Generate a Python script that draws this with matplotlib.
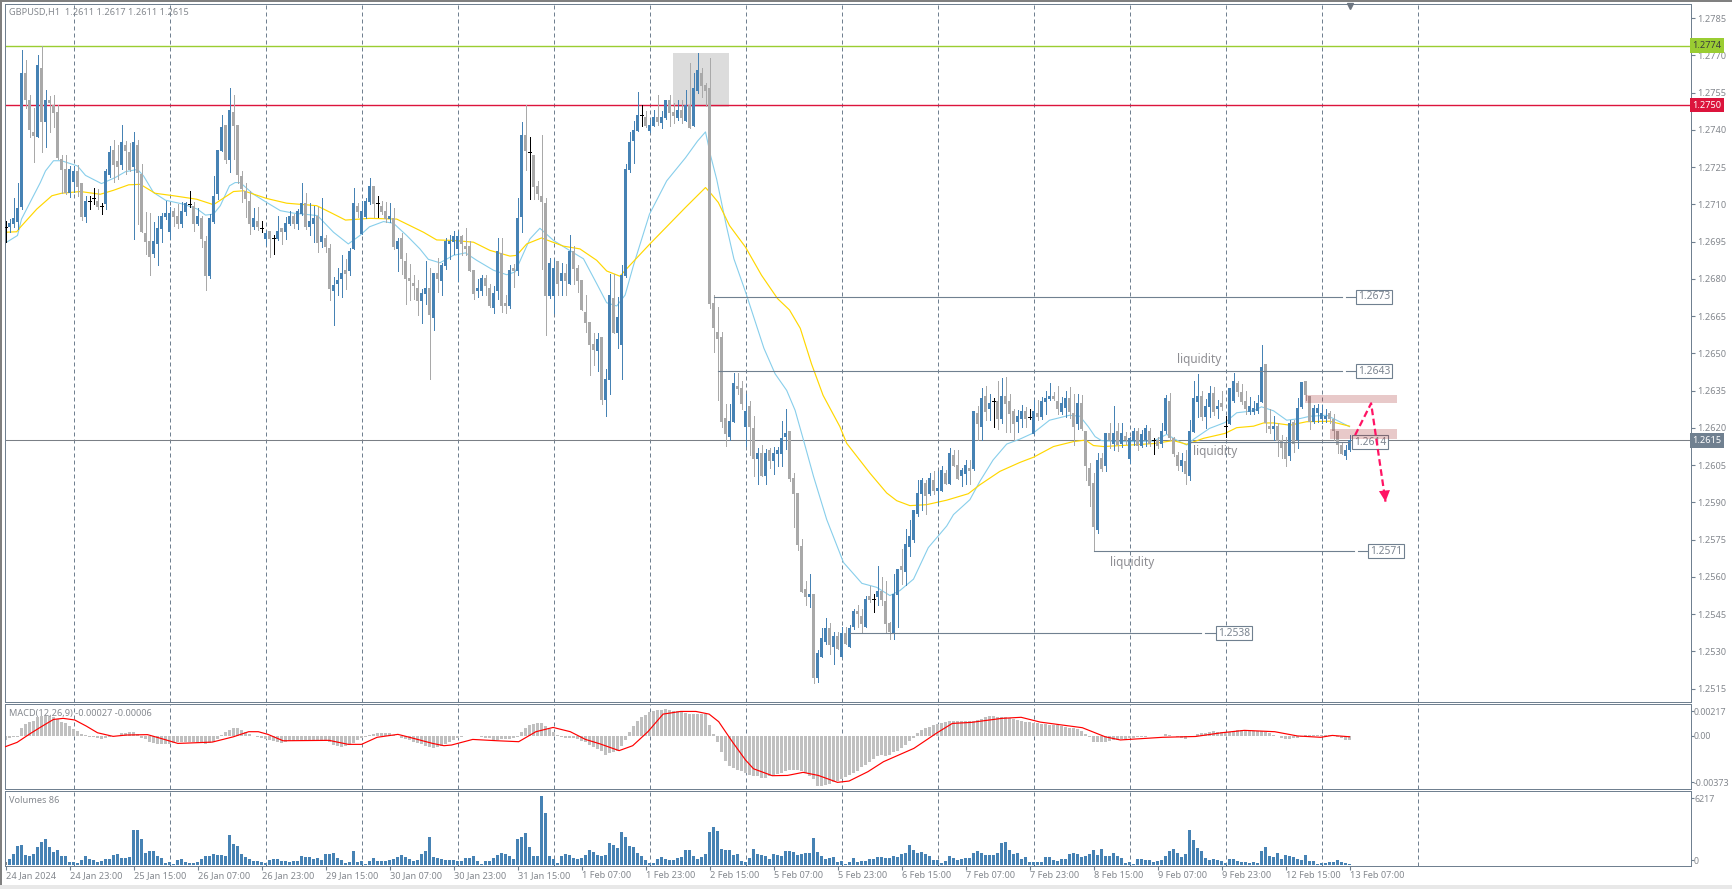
import numpy as np
import matplotlib
matplotlib.use('Agg')
import matplotlib.pyplot as plt
from matplotlib.patches import Rectangle

plt.rcParams['font.family'] = ['Noto Sans', 'DejaVu Sans']

# GBPUSD H1 candles, in pips above 1.2500, one value per bar
highs = [
    203.3,204.1,212.5,218.5,272.1,268.1,254.1,248.8,270.1,274,
    256.1,253.5,254.1,250.1,230.1,230.1,225.5,225.5,225.7,218.5,
    213.5,213.5,216.5,216.1,210.5,224.1,233.5,236.1,234.1,242.1,
    235.5,234.8,239.2,236,226.1,206.8,206.5,203,205.5,206.5,
    211.3,208.8,208.4,210.1,210.8,211,215.3,210.8,208.5,205.5,
    197.2,206.1,221.5,232.1,246.1,242.1,256.8,254.1,242.1,223.3,
    218.5,215.3,208.5,208.9,203.3,199.5,199.3,197.5,205.2,200.4,
    204.8,207.3,206.1,208.1,218.5,214.5,210.5,209.5,208.8,212.5,
    197.5,194.1,180.8,184.5,189.5,188,192.4,216.5,210.5,211.2,
    212.5,220.5,217.3,213.3,211.3,210.8,210.5,208.5,196.5,198.4,
    190.5,186.1,181.5,179.5,176.1,187.3,184.5,182.5,188.5,186.5,
    196.4,197.5,199.2,199.2,197.7,200.4,195.3,183.7,180.1,181.7,
    181.7,178.1,177.2,196.5,196.5,173.5,185.5,186.1,212.5,243.3,
    250,237.3,230.1,219.3,238.1,212.5,188.5,188.1,187.3,186.5,
    186.1,197.5,193.4,185.5,179.7,173.7,162.5,158.1,158.4,156.5,
    143.7,182.1,182.1,172.8,185.7,226.1,239.2,243.5,255.3,250,
    247.5,244.1,248.1,254.1,247.5,252.1,254.1,250.8,252.1,252.1,
    256.1,267,262.8,271,264.8,258.8,268.8,173.5,168.5,158.5,
    129.8,129.8,142.3,142.3,138.9,133.5,130.7,124.7,111.8,113.1,
    111.4,111.8,112.5,112.5,122.7,127.8,118.7,101.8,93.9,75.1,
    58.3,61.1,53.1,30.5,39.4,43.4,41.5,37.8,37.8,39.8,
    39.8,40.5,47.1,48.5,47.1,52.2,56.5,53.1,64.3,59.8,
    58.5,41.8,61.1,63.1,71.1,79.1,83.1,87.1,99.1,99.8,
    99.1,101.8,102.5,102.5,104.5,103.1,111.9,111.1,111.1,103.8,
    107.1,107.1,126.7,128.7,135.9,136.7,133.8,131.9,138.7,140.1,
    140.7,133.8,127.8,127.1,129.1,128.5,127.8,131.1,131.1,132.5,
    134.7,137.9,134.5,136.7,132.5,134.7,136.3,133.8,133.8,133.1,
    118.7,105.8,101.8,109.8,109.8,117.9,121.8,128.7,121.8,121.8,
    118.5,116.5,119.8,119.8,119.1,121.1,119.8,115.9,116.5,121.8,
    133.1,134.2,116.5,110.5,109.8,111.1,123.1,138.7,141.9,134.7,
    131.8,136.7,136.5,131.1,134.7,124.7,135.9,142.3,138.9,137.8,
    134.7,132.5,130.7,133.1,153.4,145.9,127.8,124.7,121.8,117.1,
    116.5,123.1,123.1,132.1,138.6,138.7,132.7,129.1,129.8,129.1,
    127.8,126.7,125.8,118.7,114.5,113.1,117,
]
lows = [
    194.8,198.8,200.8,200,208.1,248.9,237,227,237,231,
    233.1,239,241.2,228.1,214.8,214.1,213,215,213.5,203.9,
    203.1,208.1,210.1,208.1,206.3,208.1,221.2,219.1,220.1,224.1,
    222.1,223.5,196.1,202,199,190,181.5,188.9,185.5,195,
    204.1,195.9,201.5,200.4,200.8,205.7,209.1,199.5,201.7,192.8,
    175.5,180.4,202.5,212.1,231.5,226.8,223.2,228.1,218.8,210.8,
    204.9,198.1,200.1,199.9,199,193.5,188.9,190.1,195.7,194.1,
    196.1,201.7,200.5,200.1,205.7,200.1,197.5,194.8,190.8,192.8,
    190.8,171.5,161.5,173.5,172.8,176.1,181.5,192.1,204.9,198.1,
    204.7,210.1,204.9,204.9,206.1,202.8,202.8,192.1,183.3,182.1,
    170.1,171.5,172.1,165.5,162.1,170.1,139.5,159.5,174.8,173.5,
    184.1,188.1,190.1,179.1,189.5,189.5,183.3,172.1,172.8,173.5,
    173.5,168.8,166.1,172.1,166.8,166.1,168.1,176.8,181.5,199,
    223.7,212.1,212.1,212.1,184.1,157.5,172.4,166.1,173.5,173.5,
    173.5,178.1,178.1,174.8,167.3,158.8,141.5,145.5,142.8,129.5,
    124.8,133.5,158.1,152.1,139.5,180.8,223.1,226.8,239.5,241.7,
    241.2,239.3,241.7,242.1,240.9,244.4,241.7,242.8,244.1,242.8,
    243.5,240.9,241.7,254.8,253.1,249.5,168.1,150.5,131.4,120.2,
    112.7,115,122.3,133.5,127.5,112.7,109.1,100.7,97.5,100.5,
    97.5,103.8,101.5,104.7,104.7,111.5,98.7,79.9,70.7,54,
    48.7,47.9,17.1,17.8,27.9,33.1,29.1,25.1,31.1,27.7,
    33.1,31.9,39.1,39.8,37.8,39.9,49.8,45.8,48.5,48.5,
    37.8,35.1,35.1,39.9,57.1,56.7,68.5,74.1,84.7,87.1,
    85.5,93.1,93.5,89.1,94.7,97.5,97.5,104.5,99.5,96.7,
    97.5,97.5,103.1,115.1,115,123.1,123.1,120.3,119.5,121.8,
    118.5,118.5,115,118.5,120.2,120.2,123.7,117.5,123.1,123.5,
    125.8,131.4,131.1,125.5,125.5,124.5,123.8,113.1,119.4,119.1,
    98.9,88.5,70.6,77.8,102.5,102.5,111.8,111.1,110.7,112.5,
    113.5,105.8,113.1,111.1,112.5,112.7,112.7,109.5,111.8,112.5,
    118.1,115.1,108.5,103.1,102.5,97.5,99.1,118.3,124.5,123.1,
    119.8,124.2,125.1,123.8,127.1,116.2,121.5,130.3,132.7,129.8,
    125.8,125.8,125.8,126.1,130.3,118.5,117.8,115.1,108.7,107.8,
    104.7,107.1,110.5,111.8,127.9,131.1,119.7,121.8,122.3,121.8,
    122.5,121.8,115.1,109.8,109.5,107.5,110.7,
]
opens = [
    201.1,200.9,202.1,203.1,208.9,263,252.1,239.3,237,264.9,
    243,252.1,250.1,247.3,228.1,224.1,214.8,218.9,223.3,218.5,
    204.9,211.3,212.4,211.2,209.5,210.1,221.7,232.1,227.3,225.7,
    234.1,231.3,224.9,234.1,222.1,198.5,195.3,190.1,194.1,200.1,
    204.9,199,207.3,205.3,202.1,206.9,210.1,209.5,202.1,204.5,
    195.3,181.3,202.9,214.1,231.7,242.1,227.7,247.3,242.1,221.3,
    215.3,211.3,200.9,203.3,200.5,196.1,199.3,196.5,196.1,200.5,
    199,202.1,205.3,202.1,206.1,210.5,200.9,202.1,205.3,194.9,
    196.5,192.5,175.3,178.1,180.1,183.7,183.3,192.1,209.3,198.1,
    204.9,210.9,217.3,210.5,209.3,207.3,204.1,204.5,192.1,196.5,
    187.3,180.5,178.5,176.5,171.3,174.1,176.5,164.1,182.5,179.3,
    185.3,194.1,194.9,192.1,197.3,193.3,193.3,183.7,175.3,175.3,
    180.5,176.5,168.1,175.3,190.5,170.5,169.3,184.5,183.3,204.9,
    238.1,231,230.1,217.3,213.3,210.5,173.3,173.3,187.3,179.3,
    182.5,178.1,191.3,184.5,179.7,166.5,162.5,153.7,150.9,156.5,
    131.3,139.3,172.5,158.1,153.3,181.3,223.7,235.7,239.7,245.9,
    245.3,239.7,241.7,245.3,242.9,244.9,252.1,247.3,244.9,248.1,
    243.7,250.1,241.7,255.7,262.9,258.1,256.9,170.5,158.5,156.5,
    123.9,116.3,122.3,136.7,135.9,120.3,128.7,119.9,107.5,109.9,
    100.7,111.1,106.7,109.5,109.5,116.3,118.7,99.9,93.9,72.3,
    55.1,51.9,53.1,19.1,27.9,33.9,39.5,31.9,36.3,27.9,
    37.5,31.9,39.9,46.3,44.3,39.9,52.3,51,51.9,54.3,
    50.3,41.5,37.1,52.7,64.3,61.9,71.9,74.7,85.5,93.5,
    97.9,93.5,99.1,94.7,94.7,101.9,97.5,109.1,105.1,100.7,
    101.5,103.9,103.5,125.9,120.3,132.7,127.5,130.9,130.7,123.5,
    132.7,130.7,126.7,122.3,123.5,126.7,124.2,117.5,125.9,124.3,
    130.3,131.5,132.7,130.7,126.3,127.9,131.9,125.9,121.5,129.9,
    118.7,103.9,97.9,78.7,107.9,104.7,117.9,113.5,118.7,113.5,
    116.7,107.5,114.7,118.7,112.7,115.1,118.7,115.1,115.1,113.5,
    118.7,130.7,115.9,109.1,104.7,106.7,100.7,118.3,130.3,132.7,
    124.3,128.3,133.9,127.5,129.9,120.7,121.5,130.7,137.9,134.3,
    130.7,126.3,126.3,126.7,130.3,145.9,120.7,119.5,120.7,115.1,
    114.3,108.7,122.2,115.1,128.3,138.7,132.7,122.3,125.9,123.5,
    123.5,125.9,123.5,118.7,113.1,108.7,111,
]
closes = [
    201.1,202.5,204.5,208.5,263,251.9,239.9,237.7,266.1,243,
    252.1,250.9,246.9,228.9,223.9,214.8,224.1,223.3,216.9,204.9,
    211.3,211.3,212.4,208.9,209.5,223.3,231.3,225.7,224.9,235.3,
    231.7,223.7,235.3,222.8,199,194.9,188.9,195.3,200.5,205.5,
    206.5,206.5,204.9,202.1,207.3,210.5,210.1,202.1,205.3,196.1,
    181.3,204.5,213.3,232.1,241.3,227.7,248.1,241.7,221.7,216.1,
    212.1,202.1,204.5,200.9,200.5,198.5,196.1,196.5,199.3,198.9,
    202.5,205.3,202.1,207.3,210.5,200.9,203.3,204.5,194.5,197.3,
    192.9,176.1,177.7,179.7,182.5,182.1,191.3,210.5,206.9,207.3,
    211.3,217.3,210.1,210.5,206.9,204.1,205.3,192.9,195.3,188.1,
    180.1,179.3,177.3,171.3,174.5,176.5,165.3,182.5,180.1,185.7,
    195.3,195.3,197.3,197.3,194.1,192.1,183.3,174.1,176.5,180.5,
    177.3,169.3,174.5,191.3,169.3,169.3,183.7,183.3,204.5,238.1,
    231.7,231,216.9,214.1,210.9,173.3,186.5,184.5,178.1,182.5,
    179.3,191.3,184.1,179.3,167.3,162.1,153.3,151.3,155.7,131.3,
    139.7,173.7,158.1,164.5,181.7,224.1,235.3,240.1,246.1,245.9,
    241.7,242.1,245.3,243.3,245.3,252.1,246.9,245.7,248.1,244.9,
    250.1,240.9,256.9,264.1,257.7,255.7,170.1,160.1,156,122.3,
    117.5,122.7,138.1,135.5,129.5,126.7,120.3,107.5,109.9,100.7,
    109.9,106.7,109.9,111.1,115.9,117.9,99.5,93.5,72.7,54,
    51.9,53.1,19.1,29.5,35.5,39.5,32.7,36.3,31.1,37.5,
    33.1,39.5,46.3,45.1,41.1,51.1,50.7,51,54.3,50.7,
    41.1,37.9,53.1,63.1,62.7,73.1,76.3,87.1,93.9,99.1,
    92.7,99.9,94.7,95.9,103.1,97.5,109.9,104.7,99.5,103.1,
    105.1,102.7,126.7,121.5,131.9,126.3,129.9,130.9,123.5,132.7,
    129.5,125.5,121.5,124.7,126.7,123.5,124.2,126.7,124.3,130.7,
    131.9,132.7,131.5,127.5,129.9,131.9,126.3,120.3,129.9,119.5,
    104.7,96.7,79.9,107.1,103.5,117.9,115.1,117.9,113.1,117.9,
    115.1,115.9,118.7,112.7,117.5,119.9,113.5,115.1,112.7,118.7,
    131.9,115.9,109.5,104.7,107.1,101.5,118.7,131.9,132.7,124.3,
    128.7,133.9,126.3,128.7,128.3,120.7,135.9,138.7,134.3,130.3,
    127.5,128.7,127.9,129.9,144.7,121.8,119.5,120.7,114.7,111.9,
    107.5,121.9,113.5,127.9,138.3,133.1,122.3,127.9,127.9,125.9,
    124.7,123.5,118.7,113.1,109.5,111.1,115,
]

# moving averages read at turning points: bar number, pips above 1.2500
ma_fast_bars = [0,3,4,7,8.7,10,12,14,18,20,24,27.4,30,33,34.5,37,40,44.5,48,50,52,53.7,56,57.4,58.7,62,65.3,68.7,72,74.5,78,82,85.7,
                88.6,91,94.5,97,100.3,103.6,105.7,108.6,112,115,117.8,122,125.3,127.4,131.1,133.6,137,141,144.5,147.8,150.3,152.8,154.9,157,161,165.3,170,
                173,175,176.3,177.8,180.2,182.1,185,189.6,192.4,195.3,197.4,199.5,202,205.3,209.5,214.1,217.8,221.1,223.6,227,230.7,235.3,237,241.1,243.6,246.9,250.3,253.6,
                257,261,266,268.6,270.7,272.4,274,277.8,282,287,290.3,292.8,295.3,297,301,304.9,307.8,312,314,317,320.3,323.7,326.1,330.3,332.8,336]
ma_fast_vals = [194.5,197.5,204.1,213.5,218.8,223.5,227.6,227.6,225.5,221.7,218.4,220.8,223.2,224.1,221.5,214.8,211.7,210.1,208.1,205.7,206.1,209.5,217.5,218.8,218.8,214.1,210.8,207.5,206.5,206.1,205.5,198.8,194.1,
                197.5,201,203.1,202.4,197.5,192.1,187.9,186.5,189.5,190.5,187.5,183.5,181.7,182.8,196.1,200.4,195.5,191.5,188.1,178.1,170.4,169.1,173.5,185.5,206.1,219.5,228.8,
                235.5,239.2,229.5,220.1,201.5,188.1,174.8,152.1,141.8,135.1,127.1,115.1,100.5,83.1,65.8,57.4,55.8,52.5,54.5,59.1,71.8,80.5,85.1,91.1,98.5,107.1,113.5,115.5,
                118,123.1,125.1,124.7,120.5,116.5,114.9,114.5,114.5,114.7,117.4,115.1,113.1,115.4,119.8,122.2,126.1,126.9,128.5,126.9,123.1,123.8,124.7,125.1,123.1,120.5]
ma_slow_bars = [0,2.8,3.7,7.8,11.6,14,18.7,23.7,27,30.8,33.7,37.4,42,47.8,52,57,59.5,65.3,70.3,77.8,81.2,85,
                91.1,97.8,104.5,107.8,112,117,121.1,126.1,127.8,130.3,134,139.5,143.6,147.8,150.3,153.6,156.1,161.1,170,
                175,176.3,178.2,181,185,189,193,196,198.7,201.5,204.4,208.6,210.3,216.1,220.3,222.8,226.1,230.3,235.3,240.7,243.6,248.6,253.6,
                257,262,267,270,272,274.5,280,287,292,295.3,299.5,304.9,307.8,312,314.5,317,321.1,325.3,331,336]
ma_slow_vals = [198.8,199,200.8,208.1,213.5,214.5,215.2,214.1,215.7,217.9,218.1,214.5,213.5,212.1,209.9,215.2,215.5,212.4,210.5,209.5,206.8,203.7,
                204.4,204.1,198.8,195.7,195.5,194.8,191.5,189.2,189.5,194.1,196.5,193.2,192.1,187.5,183.2,181.1,185.5,194.1,208.8,
                216.8,214.5,210.8,201.5,192.8,181.5,172.1,167.5,160.1,145.8,133.1,120.5,113.8,101.8,93.8,90.7,88.7,89.1,90.9,93.5,97.1,102.5,106.1,
                108.2,112.5,114.5,115.1,112.9,112.5,113,113.7,114.9,113.4,115.8,117.8,120.1,120.7,122,122,121.1,122.5,122.7,120.7]

# MACD histogram per bar and signal line at turning points, in units of 0.00001
macd_hist = [
    -30,-20,-12,-8,60,88,100,112,138,145,150,145,138,125,105,95,70,50,38,15,
    8,-8,-12,-20,-25,-20,-8,-5,0,18,22,25,25,15,-15,-25,-45,-55,-60,-65,
    -62,-60,-55,-50,-50,-48,-48,-48,-52,-58,-62,-58,-45,-25,5,25,45,60,60,45,
    25,10,0,-8,-15,-25,-35,-42,-50,-52,-50,-40,-40,-35,-35,-32,-32,-30,-35,-35,
    -40,-50,-68,-78,-82,-80,-70,-55,-35,-20,-8,8,15,20,20,18,18,8,-5,-15,
    -22,-35,-45,-55,-62,-75,-88,-90,-85,-80,-62,-50,-30,-15,-8,-5,-5,-2,-2,-8,
    -15,-20,-30,-30,-22,-25,-25,-20,-10,30,60,80,90,95,92,70,50,30,5,-10,
    -18,-20,-20,-22,-40,-50,-70,-82,-100,-112,-142,-130,-120,-115,-75,-30,30,75,108,138,
    158,175,182,190,195,200,192,185,185,180,170,165,165,165,162,165,80,12,-50,-125,
    -188,-225,-242,-258,-268,-280,-292,-300,-305,-320,-315,-305,-295,-288,-280,-262,-255,-255,-258,-262,
    -280,-300,-325,-375,-375,-370,-362,-350,-338,-325,-312,-295,-280,-262,-238,-218,-195,-175,-155,-145,
    -150,-145,-125,-118,-95,-68,-38,-20,20,40,55,68,78,88,95,102,110,110,110,110,
    110,108,110,118,125,138,145,145,142,140,138,130,125,118,112,105,100,95,95,90,
    90,82,82,80,75,65,60,55,48,35,12,-12,-45,-50,-50,-45,-38,-30,-30,-25,
    -22,-20,-15,-12,-8,-8,-5,-5,-5,-5,10,5,-5,-12,-20,-25,-12,-5,12,18,
    22,30,32,30,25,25,30,38,45,42,38,35,35,35,32,25,18,8,-5,-15,
    -25,-25,-20,-20,-8,2,2,2,2,2,5,5,0,-8,-20,-30,-30,
]
signal_bars = [0,2.9,6.3,9.2,12,14.4,17.3,20.2,23,26.9,30.2,35.5,38.8,43.1,51.7,57,60.8,63.2,65.6,69.4,80.9,85.7,89,92.9,98.1,101,106.8,109.6,111.5,116.8,123,128.3,132.6,136.9,141.2,145,148.7,
               153.4,156.8,160.6,164.4,168.8,172.6,175.9,178.3,181.7,185,187,191.7,195.5,199.4,203.2,208,210.9,215.6,219.5,227.1,232.9,236.7,241.5,249.1,253.9,258.7,269.2,274.9,278.7,289.3,297.5,
               304,309.7,317.3,323,328.8,331.7,336]
signal_vals = [-82,-50,18,72,122,130,118,72,22,-5,5,8,-20,-58,-48,-8,30,30,10,-38,-35,-65,-65,-12,10,-12,-58,-75,-70,-28,-38,-45,30,62,30,-28,-62,
               -112,-75,30,162,182,182,162,105,-45,-182,-248,-300,-298,-275,-298,-350,-340,-270,-195,-95,22,92,100,130,138,102,60,-8,-32,-12,-6,
               22,40,30,-2,-12,2,-8]

# tick volume per bar
volumes = [
    300,540,990,1740,1800,900,840,990,1620,2070,2340,1620,1140,1350,810,810,270,270,180,450,
    810,540,450,270,330,540,540,900,990,630,630,720,3150,3150,2340,1080,1260,1260,810,630,
    180,270,60,450,540,270,180,180,270,540,810,810,990,900,900,810,2700,1890,1710,990,
    720,540,360,360,270,180,450,540,540,360,360,270,360,360,810,720,720,540,630,450,
    990,990,1080,630,450,180,270,1260,270,360,90,360,630,360,360,360,450,540,720,900,
    720,540,360,450,990,1260,2520,720,630,540,450,450,450,360,360,630,630,810,360,90,
    360,360,630,900,1080,990,810,540,2340,2520,2880,1620,810,810,6240,4680,810,540,180,810,
    990,900,630,540,630,900,1350,1170,900,810,900,1980,1800,1530,2970,2520,1710,1620,1080,810,
    450,180,180,540,720,540,450,450,630,720,1350,1350,810,540,720,990,2970,3420,3060,1440,
    1350,1350,900,990,360,270,630,1440,990,900,810,540,990,900,810,1260,1260,1170,900,990,
    1080,1080,2430,1170,810,540,630,720,270,360,90,270,630,270,360,360,540,540,720,720,
    630,630,810,720,990,1080,1800,1350,1080,1170,990,810,450,450,180,360,810,630,450,540,
    630,630,1080,1260,1080,900,900,900,1080,1980,2070,1350,990,1080,540,720,270,270,270,270,
    720,720,450,360,540,540,990,1080,990,720,810,990,1350,900,1440,810,810,1080,810,630,
    180,270,90,540,540,450,450,270,360,450,810,1260,1440,1080,720,990,3150,2250,1530,1260,
    630,450,540,450,360,180,540,540,360,270,270,180,270,180,1260,1620,810,720,1080,540,
    900,810,720,540,450,900,360,360,60,180,180,270,270,450,270,180,86,
]

time_bars = list(range(0, 337, 16))
time_labels = ['24 Jan 2024', '24 Jan 23:00', '25 Jan 15:00', '26 Jan 07:00', '26 Jan 23:00', '29 Jan 15:00',
               '30 Jan 07:00', '30 Jan 23:00', '31 Jan 15:00', '1 Feb 07:00', '1 Feb 23:00', '2 Feb 15:00',
               '5 Feb 07:00', '5 Feb 23:00', '6 Feb 15:00', '7 Feb 07:00', '7 Feb 23:00', '8 Feb 15:00',
               '9 Feb 07:00', '9 Feb 23:00', '12 Feb 15:00', '13 Feb 07:00']
separator_bars = list(range(17, 354, 24))
price_ticks = [1.2515 + 0.0015 * k for k in range(19)]

# horizontal levels and their price boxes
green_level = 1.2774
red_level = 1.2750
bid_level = 1.2615
line_levels = [1.26728, 1.26428, 1.26142, 1.25703, 1.25373]
line_starts = [177, 178, 296, 272, 211]
line_ends = [334, 334, 336, 337, 298.8]
line_labels = ['1.2673', '1.2643', '1.2614', '1.2571', '1.2538']
label_bars = [342.1, 342.1, 341.1, 345.1, 307.1]

liquidity_bars = [298.4, 302.3, 281.6]
liquidity_levels = [1.26476, 1.26104, 1.25659]

SLATE = '#708090'
TEXT = '#84888e'
BLUE = '#4682B4'
GRAY = '#A9A9A9'


def px_axes(fig, top, bottom, left=4.6, right=1690.6):
    w, h = fig.get_size_inches() * fig.dpi
    ax = fig.add_axes([left / w, 1 - bottom / h, (right - left) / w, (bottom - top) / h])
    ax.set_xlim(-0.225, 421.275)
    for s in ax.spines.values():
        s.set_color(SLATE)
        s.set_linewidth(0.72)
    ax.yaxis.tick_right()
    ax.tick_params(axis='both', length=0, labelbottom=False, labelleft=False, labelright=True)
    for b in separator_bars:
        ax.axvline(b, color=SLATE, lw=0.72, ls=(0, (4, 3)), zorder=1)
    return ax


def to_price(pips):
    return 1.25 + np.asarray(pips, dtype=float) / 10000


fig = plt.figure(figsize=(17.33, 8.89), dpi=100, facecolor='white')

# window edges around the chart
fig.add_artist(Rectangle((0, 0.9975), 1, 0.0025, transform=fig.transFigure, color='#808080', lw=0))
fig.add_artist(Rectangle((0, 0), 0.0013, 1, transform=fig.transFigure, color='#808080', lw=0))
fig.add_artist(Rectangle((0, 0), 1, 0.004, transform=fig.transFigure, color='#e8e8e8', lw=0))

ax_main = px_axes(fig, 4.3, 702.3)
ax_macd = px_axes(fig, 704.3, 789)
ax_vol = px_axes(fig, 791.3, 865.7)

# main price panel
ax_main.set_ylim(to_price(9.5), to_price(290.6))
bars = np.arange(len(closes))
o, c, h, l = to_price(opens), to_price(closes), to_price(highs), to_price(lows)
colors = [BLUE if cl > op else GRAY if cl < op else 'black' for op, cl in zip(opens, closes)]

ax_main.add_patch(Rectangle((166.9, to_price(249.4)), 14, to_price(271) - to_price(249.4),
                            facecolor='#dcdcdc', edgecolor='none', zorder=0))
ax_main.axhline(green_level, color='#9ACD32', lw=1.0, zorder=1.5)
ax_main.axhline(red_level, color='#DC143C', lw=1.0, zorder=1.5)
ax_main.axhline(bid_level, color='#7a7f86', lw=0.75, zorder=1.5)

ax_main.plot(ma_fast_bars, to_price(ma_fast_vals), color='#87CEEB', lw=0.8, zorder=2)
ax_main.plot(ma_slow_bars, to_price(ma_slow_vals), color='#FFD700', lw=0.85, zorder=2)

ax_main.vlines(bars, l, h, colors=colors, lw=0.7, antialiased=False, zorder=3)
ax_main.bar(bars, np.abs(c - o), bottom=np.minimum(o, c), width=0.75, color=colors,
            linewidth=0, antialiased=False, zorder=3)
is_doji = c == o
ax_main.hlines(c[is_doji], bars[is_doji] - 0.4, bars[is_doji] + 0.4, colors='black', lw=0.7,
               antialiased=False, zorder=3)

# trend lines with the little gap and the price box at the end
for lev, x0, x1, txt, xl in zip(line_levels, line_starts, line_ends, line_labels, label_bars):
    ax_main.plot([x0, x1], [lev, lev], color=SLATE, lw=0.8, zorder=4)
    if txt != '1.2614':
        ax_main.plot([x1 + 1.1, xl - 4.4], [lev, lev], color=SLATE, lw=0.8, zorder=4)
    ax_main.text(xl, lev, txt, ha='center', va='center', fontsize=7.4, color='#7c8590', zorder=5,
                 bbox=dict(boxstyle='square,pad=0.16', fc='white', ec=SLATE, lw=0.8))

for xl, lev in zip(liquidity_bars, liquidity_levels):
    ax_main.text(xl, lev, 'liquidity', ha='center', va='center', fontsize=8.5, color='#8d8d92', zorder=5)

# pink zones and the dashed move arrows
for x0, x1, p0, p1 in [(324.9, 347.9, 130.1, 133.2), (331.1, 347.9, 115.6, 119.6)]:
    ax_main.add_patch(Rectangle((x0, to_price(p0)), x1 - x0, to_price(p1) - to_price(p0),
                                facecolor='#A52A2A', alpha=0.25, edgecolor='none', zorder=6))
ax_main.plot([337.4, 341.4, 345], to_price([117.1, 129.9, 90.3]), color='#FF1464', lw=1.6,
             ls=(0, (3, 1.6)), zorder=7)
ax_main.annotate('', xy=(345, to_price(90.3)), xytext=(344.6, to_price(97)),
                 arrowprops=dict(arrowstyle='-|>', color='#FF1464', lw=0, mutation_scale=20,
                                 shrinkA=0, shrinkB=0), zorder=7)
ax_main.plot([336], [0.997], marker='v', ms=5, color='#6d7681', clip_on=False,
             transform=ax_main.get_xaxis_transform(), zorder=8)

ax_main.set_yticks(price_ticks)
ax_main.set_yticklabels(['%.4f' % t for t in price_ticks])
ax_main.tick_params(axis='y', length=3, width=0.8, color=SLATE, labelsize=6.6, labelcolor=TEXT, pad=2)

# price flags on the right axis
flag_trans = ax_main.get_yaxis_transform()
for lev, fc, tc in [(green_level, '#9ACD32', '#3c3c3c'), (red_level, '#DC143C', 'white'), (bid_level, SLATE, 'white')]:
    ax_main.text(1.0012, lev, '%.4f' % lev, transform=flag_trans, ha='left', va='center', fontsize=6.6,
                 color=tc, clip_on=False, zorder=9,
                 bbox=dict(boxstyle='square,pad=0.3', fc=fc, ec='none'))

ax_main.text(0.0026, 0.9885, 'GBPUSD,H1  1.2611 1.2617 1.2611 1.2615', transform=ax_main.transAxes,
             ha='left', va='center', fontsize=6.6, color=TEXT)

# MACD panel
ax_macd.set_ylim(-399.8, 235.5)
ax_macd.bar(bars, macd_hist, width=0.75, color='#C0C0C0', linewidth=0, antialiased=False, zorder=2)
ax_macd.plot(signal_bars, signal_vals, color='#FF0000', lw=0.85, zorder=3)
ax_macd.set_yticks([183, 0, -350])
ax_macd.set_yticklabels(['0.00217', '0.00', '-0.00373'])
ax_macd.tick_params(axis='y', length=2, width=0.8, color=SLATE, labelsize=6.4, labelcolor=TEXT, pad=0.5)
ax_macd.text(0.0029, 0.895, 'MACD(12,26,9) -0.00027 -0.00006', transform=ax_macd.transAxes,
             ha='left', va='center', fontsize=6.6, color=TEXT)

# volume panel
ax_vol.set_ylim(-63, 6633)
vol_colors = ['#808080'] + [BLUE] * (len(volumes) - 1)
ax_vol.bar(bars, volumes, width=0.75, color=vol_colors, linewidth=0, antialiased=False, zorder=2)
ax_vol.set_yticks([450, 6000])
ax_vol.set_yticklabels(['0', '6217'])
ax_vol.tick_params(axis='y', length=2, width=0.8, color=SLATE, labelsize=6.4, labelcolor=TEXT, pad=0.5)
ax_vol.text(0.0029, 0.875, 'Volumes 86', transform=ax_vol.transAxes,
            ha='left', va='center', fontsize=6.6, color=TEXT)

ax_vol.set_xticks(time_bars)
ax_vol.set_xticklabels(time_labels, ha='left')
ax_vol.tick_params(axis='x', length=3, width=0.8, color=SLATE, labelbottom=True,
                   labelsize=6.6, labelcolor=TEXT, pad=1)

fig.savefig('out.png', dpi=100)
